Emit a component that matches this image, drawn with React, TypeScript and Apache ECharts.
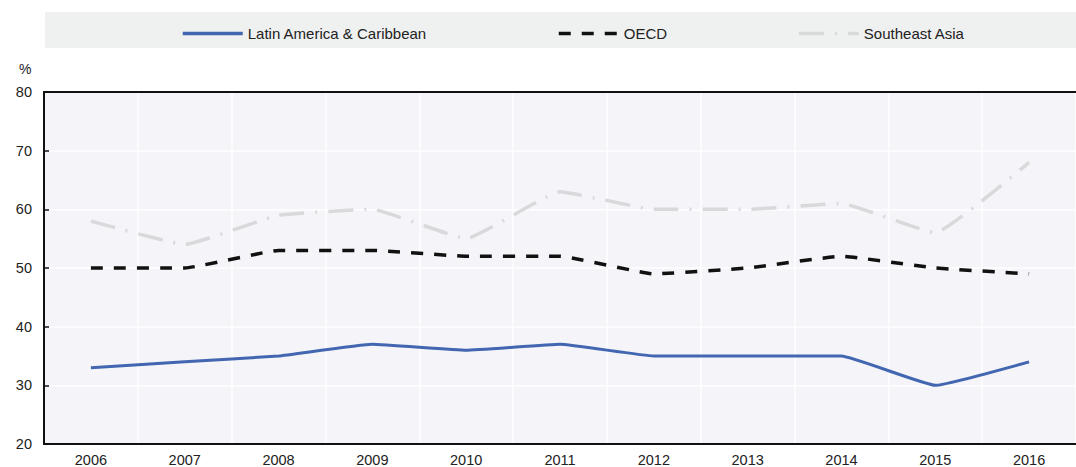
import React, { useEffect, useRef } from "react";
import * as echarts from "echarts";

const years = ["2006", "2007", "2008", "2009", "2010", "2011", "2012", "2013", "2014", "2015", "2016"];
const latinAmerica = [33, 34, 35, 37, 36, 37, 35, 35, 35, 30, 34];
const oecd = [50, 50, 53, 53, 52, 52, 49, 50, 52, 50, 49];
const southeastAsia = [58, 54, 59, 60, 55, 63, 60, 60, 61, 56, 68];

const FONT = "'Liberation Sans', Arial, sans-serif";

export default function App() {
  const ref = useRef<HTMLDivElement>(null);
  useEffect(() => {
    document.body.style.margin = "0";
    const chart = echarts.init(ref.current!, null, { renderer: "svg" });
    chart.setOption({
      animation: false,
      textStyle: { fontFamily: FONT },
      graphic: [
        {
          type: "rect",
          shape: { x: 45, y: 12, width: 1031, height: 36 },
          style: { fill: "#eff0f0" },
          z: -10,
        },
        {
          type: "text",
          left: 19,
          top: 62,
          style: { text: "%", fontSize: 14, fill: "#222", fontFamily: FONT },
        },
      ],
      legend: {
        left: 176,
        top: 21,
        itemGap: 130,
        itemWidth: 60,
        itemHeight: 14,
        itemStyle: { opacity: 0 },
        lineStyle: { width: 3.5 },
        textStyle: { fontSize: 15, color: "#222", fontFamily: FONT },
        data: ["Latin America & Caribbean", "OECD", "Southeast Asia"],
      },
      grid: {
        left: 44,
        right: 0,
        top: 92,
        bottom: 22,
        show: true,
        backgroundColor: "#f4f4f9",
        borderWidth: 0,
      },
      xAxis: [
        {
          type: "category",
          data: years,
          boundaryGap: true,
          axisLine: { lineStyle: { color: "#111", width: 2 } },
          axisTick: { inside: true, length: 6, interval: 0, lineStyle: { color: "#111", width: 1.5 } },
          axisLabel: { fontSize: 14.5, color: "#222", margin: 8, fontFamily: FONT },
          splitLine: { show: true, interval: 0, lineStyle: { color: "#ffffff", width: 1.5 } },
        },
        {
          type: "category",
          data: years,
          position: "top",
          axisLine: { show: true, lineStyle: { color: "#111", width: 2 } },
          axisTick: { show: false },
          axisLabel: { show: false },
          splitLine: { show: false },
        },
      ],
      yAxis: {
        type: "value",
        min: 20,
        max: 80,
        interval: 10,
        axisLine: { show: true, lineStyle: { color: "#111", width: 2 } },
        axisTick: { show: true, inside: true, length: 5, lineStyle: { color: "#111", width: 1.5 } },
        axisLabel: { fontSize: 14.5, color: "#222", margin: 12, fontFamily: FONT },
        splitLine: { show: true, lineStyle: { color: "#ffffff", width: 1.5 } },
      },
      series: [
        {
          name: "Latin America & Caribbean",
          type: "line",
          data: latinAmerica,
          symbol: "none",
          smooth: 0.1,
          lineStyle: { color: "#4266b0", width: 3 },
          itemStyle: { color: "#4266b0" },
          z: 4,
        },
        {
          name: "OECD",
          type: "line",
          data: oecd,
          symbol: "none",
          smooth: 0.1,
          lineStyle: { color: "#111", width: 3.5, type: [12, 11] },
          itemStyle: { color: "#111" },
          z: 3,
        },
        {
          name: "Southeast Asia",
          type: "line",
          data: southeastAsia,
          symbol: "none",
          smooth: 0.1,
          lineStyle: { color: "#d9d9db", width: 3.5, type: [25, 11, 2, 11] },
          itemStyle: { color: "#d9d9db" },
          z: 2,
        },
      ],
    });
    return () => chart.dispose();
  }, []);
  return <div ref={ref} style={{ width: 1076, height: 467 }} />;
}
